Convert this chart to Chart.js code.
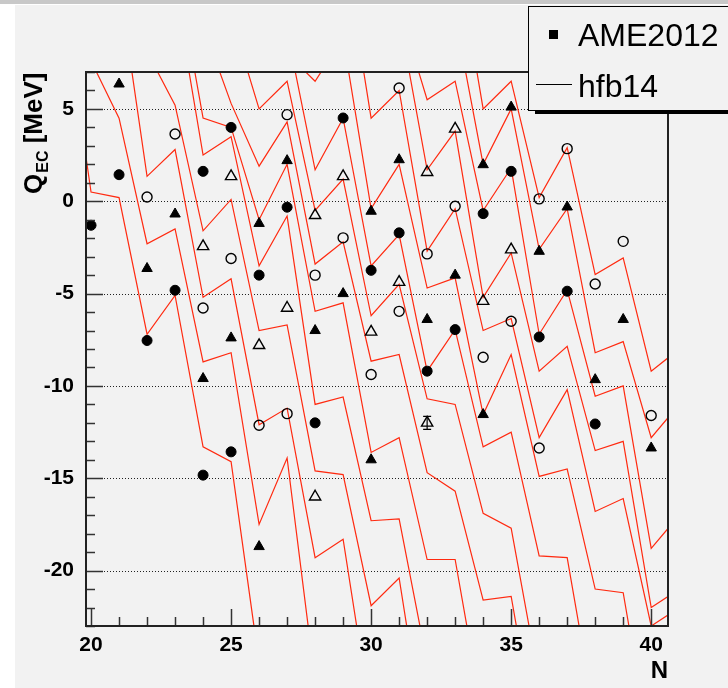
<!DOCTYPE html>
<html>
<head>
<meta charset="utf-8">
<script src="https://cdn.jsdelivr.net/npm/chart.js@4.4.1/dist/chart.umd.min.js"></script>
<style>
  html, body { margin: 0; padding: 0; background: #fff; }
  #wrap { width: 728px; height: 688px; }
</style>
</head>
<body>
<div id="wrap"><canvas id="qecChart" width="728" height="688"></canvas></div>
<script>
// AME2012 values, one pair of arrays per marker style
const fullCircleN = [20, 21, 22, 23, 24, 25, 24, 25, 26, 27, 28, 29, 30, 31, 32, 33, 34, 35, 36, 37, 38];
const fullCircleQ = [-1.3, 1.44, -7.54, -4.82, -14.83, -13.57, 1.62, 4.0, -4.0, -0.32, -12.0, 4.51, -3.74, -1.71, -9.2, -6.95, -0.67, 1.62, -7.35, -4.87, -12.06];

const fullTriN = [21, 22, 23, 24, 25, 26, 26, 27, 28, 29, 30, 30, 31, 32, 33, 34, 34, 35, 36, 37, 38, 39, 40];
const fullTriQ = [6.35, -3.64, -0.69, -9.6, -7.4, -18.7, -1.2, 2.2, -7.0, -5.0, -14.0, -0.54, 2.25, -6.4, -4.0, -11.55, 1.98, 5.1, -2.71, -0.31, -9.66, -6.4, -13.36];

const openCircleN = [22, 23, 24, 25, 26, 27, 27, 28, 29, 30, 31, 31, 32, 33, 34, 35, 36, 36, 37, 38, 39, 40];
const openCircleQ = [0.23, 3.64, -5.78, -3.1, -12.13, -11.5, 4.69, -4.0, -1.98, -9.38, -5.96, 6.13, -2.85, -0.27, -8.45, -6.5, -13.36, 0.13, 2.85, -4.48, -2.17, -11.6];

const openTriN = [24, 25, 26, 27, 28, 28, 29, 30, 31, 32, 32, 33, 34, 35];
const openTriQ = [-2.44, 1.35, -7.8, -5.78, -16.0, -0.76, 1.35, -7.07, -4.38, -12.0, 1.57, 3.92, -5.41, -2.62];
const openTriErr = [0, 0, 0, 0, 0, 0, 0, 0, 0, 0.35, 0, 0, 0, 0];

// hfb14 chains: first N of each chain, then Q values for N, N+1, ...
const hfbFirstN = [19, 19, 20, 21, 22, 23, 24, 25, 26, 26, 29, 30, 31, 32, 33];
const hfb0 = [11, 0.5, 0.2, -7.2, -5.1, -13.3, -14.1, -25];
const hfb1 = [17.5, 7.6, 4.5, -2.3, -1.5, -8.7, -8.2, -17.5, -13.9, -26];
const hfb2 = [15, 11.8, 1.35, 2.8, -5.2, -4.2, -12.1, -11.2, -19.3, -18.3, -28];
const hfb3 = [17, 8.1, 5.2, -1.6, 0.1, -7.0, -6.7, -14.6, -14.8, -21.9, -20.4, -30];
const hfb4 = [13, 11.5, 2.5, 3.5, -3.5, -0.8, -11.0, -10.6, -17.3, -17.2, -25, -23.5, -32];
const hfb5 = [13, 4.5, 4.0, -1.0, 2.0, -5.96, -5.5, -13.6, -12.8, -19.4, -19.4, -28];
const hfb6 = [9.5, 5.3, 1.9, 4.3, -3.4, -2.2, -8.66, -8.3, -14.7, -15.7, -21.6, -21.4, -30];
const hfb7 = [10, 5.0, 6.5, -0.5, 1.2, -6.2, -4.5, -10.7, -11.0, -16.9, -17.7, -26];
const hfb8 = [12, 9.2, 1.7, 4.5, -3.5, -1.8, -9.2, -6.95, -13.3, -12.5, -19.2, -19.3, -28];
const hfb9 = [16, 8, 6.5, 8.85, -0.4, 2.0, -4.7, -4.15, -11.55, -8.3, -14.9, -14.5, -21, -21.2, -30];
const hfb10 = [14, 4.5, 6.0, -2.7, -0.4, -7.0, -6.35, -12.8, -10.2, -16.8, -16.1, -23, -22];
const hfb11 = [13, 10, 1.7, 3.8, -5.2, -2.8, -9.2, -7.85, -13.5, -13.0, -22, -21];
const hfb12 = [10.5, 5.5, 6.5, -0.5, 1.8, -7.2, -4.8, -10.56, -10.0, -18.8, -17];
const hfb13 = [16, 10, 2.0, 5.0, -2.6, -0.4, -8.2, -7.6, -12.8, -11];
const hfb14 = [14, 5, 6.5, 0.2, 2.9, -3.97, -3.07, -9.2, -8];
const hfbChains = [hfb0, hfb1, hfb2, hfb3, hfb4, hfb5, hfb6, hfb7, hfb8, hfb9, hfb10, hfb11, hfb12, hfb13, hfb14];

const xMajor = [20, 25, 30, 35, 40];
const yMajor = [-20, -15, -10, -5, 0, 5];

const toPts = (ns, qs) => ns.map((n, i) => ({ x: n, y: qs[i] }));

const datasets = [
  { label: 'AME2012', data: toPts(fullCircleN, fullCircleQ), pointStyle: 'circle', pointRadius: 5,
    backgroundColor: '#000', borderColor: '#000', borderWidth: 1, order: 0 },
  { label: 'AME2012', data: toPts(fullTriN, fullTriQ), pointStyle: 'triangle', pointRadius: 6,
    backgroundColor: '#000', borderColor: '#000', borderWidth: 1, order: 0 },
  { label: 'AME2012', data: toPts(openCircleN, openCircleQ), pointStyle: 'circle', pointRadius: 5,
    backgroundColor: 'rgba(0,0,0,0)', borderColor: '#000', borderWidth: 1.4, order: 0 },
  { label: 'AME2012', data: toPts(openTriN, openTriQ), pointStyle: 'triangle', pointRadius: 6.5,
    backgroundColor: 'rgba(0,0,0,0)', borderColor: '#000', borderWidth: 1.4, order: 0 }
];

hfbChains.forEach((chain, k) => {
  datasets.push({
    label: 'hfb14',
    data: chain.map((q, i) => ({ x: hfbFirstN[k] + i, y: q })),
    showLine: true, pointRadius: 0, borderColor: '#ff2a10', borderWidth: 1.2,
    tension: 0, order: 1
  });
});

const rootLook = {
  id: 'rootLook',
  beforeDraw(chart) {
    const c = chart.ctx;
    c.save();
    c.fillStyle = '#ffffff';
    c.fillRect(0, 0, 728, 688);
    c.fillStyle = '#c8c8c8';
    c.fillRect(0, 0, 728, 4);
    c.fillStyle = '#f2f2f2';
    c.fillRect(15, 5, 713, 683);
    c.restore();
  },
  beforeDatasetsDraw(chart) {
    const { ctx, chartArea: a, scales: { y } } = chart;
    ctx.save();
    ctx.setLineDash([1, 2]);
    ctx.strokeStyle = '#222';
    ctx.lineWidth = 1;
    yMajor.forEach(v => {
      const py = Math.round(y.getPixelForValue(v)) + 0.5;
      ctx.beginPath();
      ctx.moveTo(a.left, py);
      ctx.lineTo(a.right, py);
      ctx.stroke();
    });
    ctx.restore();
  },
  afterDatasetsDraw(chart) {
    const { ctx, chartArea: a, scales: { x, y } } = chart;
    ctx.save();
    // error bars
    ctx.strokeStyle = '#000';
    ctx.lineWidth = 1.2;
    openTriN.forEach((n, i) => {
      if (!openTriErr[i]) return;
      const px = x.getPixelForValue(n);
      const top = y.getPixelForValue(openTriQ[i] + openTriErr[i]);
      const bot = y.getPixelForValue(openTriQ[i] - openTriErr[i]);
      ctx.beginPath();
      ctx.moveTo(px, top); ctx.lineTo(px, bot);
      ctx.moveTo(px - 4, top); ctx.lineTo(px + 4, top);
      ctx.moveTo(px - 4, bot); ctx.lineTo(px + 4, bot);
      ctx.stroke();
    });
    // ticks pointing into the frame
    ctx.strokeStyle = '#333';
    ctx.lineWidth = 1.5;
    for (let v = -23; v <= 7; v++) {
      const py = Math.round(y.getPixelForValue(v)) + 0.5;
      const len = v % 5 === 0 ? 17 : 9;
      ctx.beginPath();
      ctx.moveTo(a.left, py); ctx.lineTo(a.left + len, py);
      ctx.stroke();
    }
    for (let v = 20; v <= 40; v++) {
      const px = Math.round(x.getPixelForValue(v)) + 0.5;
      const len = v % 5 === 0 ? 17 : 9;
      ctx.beginPath();
      ctx.moveTo(px, a.bottom); ctx.lineTo(px, a.bottom - len);
      ctx.stroke();
    }
    // frame
    ctx.strokeStyle = '#222';
    ctx.lineWidth = 2;
    ctx.strokeRect(a.left, a.top, a.right - a.left, a.bottom - a.top);
    ctx.restore();
  },
  afterDraw(chart) {
    const { ctx, chartArea: a } = chart;
    ctx.save();
    // axis titles
    ctx.fillStyle = '#000';
    ctx.font = 'bold 24px "Liberation Sans", Arial, sans-serif';
    ctx.textAlign = 'right';
    ctx.textBaseline = 'alphabetic';
    ctx.fillText('N', a.right, 678);

    ctx.translate(42, 194);
    ctx.rotate(-Math.PI / 2);
    ctx.textAlign = 'left';
    ctx.font = 'bold 26px "Liberation Sans", Arial, sans-serif';
    ctx.fillText('Q', 0, 0);
    let w = ctx.measureText('Q').width;
    ctx.font = 'bold 16px "Liberation Sans", Arial, sans-serif';
    ctx.fillText('EC', w + 1, 6);
    w += 1 + ctx.measureText('EC').width;
    ctx.font = 'bold 26px "Liberation Sans", Arial, sans-serif';
    ctx.fillText(' [MeV]', w, 0);
    ctx.setTransform(1, 0, 0, 1, 0, 0);

    // legend box with shadow
    ctx.fillStyle = '#000';
    ctx.fillRect(535, 110, 200, 4);
    ctx.fillStyle = '#f2f2f2';
    ctx.fillRect(528, 6, 210, 104);
    ctx.strokeStyle = '#000';
    ctx.lineWidth = 1;
    ctx.strokeRect(528.5, 6.5, 210, 104);
    ctx.fillStyle = '#000';
    ctx.fillRect(549, 30, 9, 9);
    ctx.beginPath();
    ctx.moveTo(536, 84.5); ctx.lineTo(572, 84.5);
    ctx.stroke();
    ctx.font = '32px "Liberation Sans", Arial, sans-serif';
    ctx.textAlign = 'left';
    ctx.fillText('AME2012', 578, 46);
    ctx.fillText('hfb14', 578, 97);
    ctx.restore();
  }
};

const tickFont = { family: '"Liberation Sans", Arial, sans-serif', size: 21, weight: 'bold' };

new Chart(document.getElementById('qecChart'), {
  type: 'scatter',
  data: { datasets: datasets },
  options: {
    responsive: false,
    animation: false,
    events: [],
    layout: { padding: { left: 0, top: 72, right: 60, bottom: 0 } },
    plugins: { legend: { display: false }, tooltip: { enabled: false } },
    scales: {
      x: {
        type: 'linear', min: 19.82, max: 40.6,
        grid: { display: false, drawTicks: false },
        border: { display: false },
        ticks: { color: '#000', padding: 7, font: tickFont },
        afterBuildTicks: s => { s.ticks = xMajor.map(v => ({ value: v })); },
        afterFit: s => { s.height = 62; }
      },
      y: {
        type: 'linear', min: -23, max: 7,
        grid: { display: false, drawTicks: false },
        border: { display: false },
        ticks: { color: '#000', padding: 12, font: tickFont },
        afterBuildTicks: s => { s.ticks = yMajor.map(v => ({ value: v })); },
        afterFit: s => { s.width = 86; }
      }
    }
  },
  plugins: [rootLook]
});
</script>
</body>
</html>
